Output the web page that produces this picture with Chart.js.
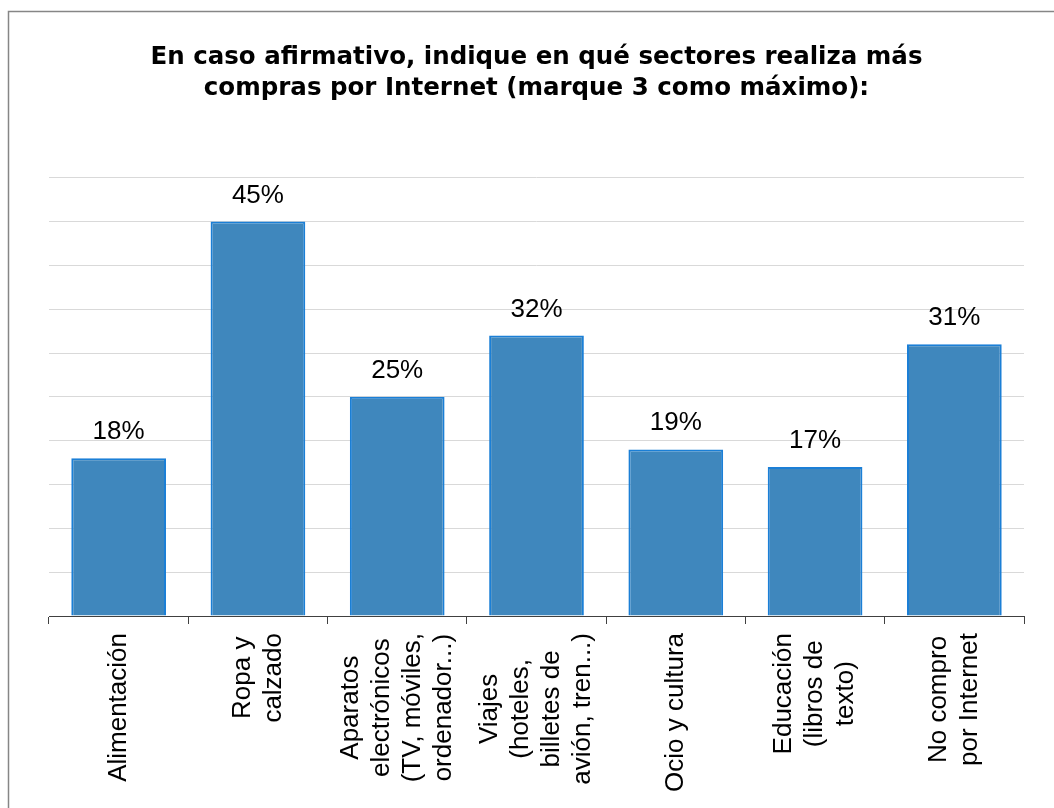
<!DOCTYPE html>
<html>
<head>
<meta charset="utf-8">
<script src="https://cdn.jsdelivr.net/npm/chart.js@4.4.0/dist/chart.umd.min.js"></script>
<style>
  html, body { margin: 0; padding: 0; background: #ffffff; }
  #wrap { width: 1054px; height: 808px; position: relative; }
</style>
</head>
<body>
<div id="wrap"><canvas id="c" width="1054" height="808"></canvas></div>
<script>
const titleLines = ["En caso afirmativo, indique en qué sectores realiza más", "compras por Internet (marque 3 como máximo):"];
const categories = [
  ["Alimentación"],
  ["Ropa y", "calzado"],
  ["Aparatos", "electrónicos", "(TV, móviles,", "ordenador...)"],
  ["Viajes", "(hoteles,", "billetes de", "avión, tren...)"],
  ["Ocio y cultura"],
  ["Educación", "(libros de", "texto)"],
  ["No compro", "por Internet"]
];
const values = [18, 45, 25, 32, 19, 17, 31];
const valueLabels = ["18%", "45%", "25%", "32%", "19%", "17%", "31%"];
const yMin = 0, yMax = 50, yStep = 5;

const LABEL_FONT = '26px "Liberation Sans", Arial, sans-serif';

const framePlugin = {
  id: 'frame',
  beforeDraw(chart) {
    const ctx = chart.ctx;
    ctx.save();
    ctx.fillStyle = '#ffffff';
    ctx.fillRect(0, 0, chart.width, chart.height);
    ctx.strokeStyle = '#868686';
    ctx.lineWidth = 1.5;
    ctx.beginPath();
    ctx.moveTo(8.5, chart.height + 2);
    ctx.lineTo(8.5, 11.5);
    ctx.lineTo(chart.width + 2, 11.5);
    ctx.stroke();
    ctx.restore();
  }
};

const valueLabelPlugin = {
  id: 'valueLabels',
  afterDatasetsDraw(chart) {
    const ctx = chart.ctx;
    const meta = chart.getDatasetMeta(0);
    ctx.save();
    ctx.font = LABEL_FONT;
    ctx.fillStyle = '#000000';
    ctx.textAlign = 'center';
    ctx.textBaseline = 'alphabetic';
    meta.data.forEach((bar, i) => {
      ctx.fillText(valueLabels[i], bar.x, bar.y - 19);
    });
    ctx.restore();
  }
};

const xLabelPlugin = {
  id: 'xLabels',
  afterDraw(chart) {
    const ctx = chart.ctx;
    const xs = chart.scales.x;
    const top = chart.chartArea.bottom + 17;
    const lh = 31;
    ctx.save();
    ctx.font = LABEL_FONT;
    ctx.fillStyle = '#000000';
    ctx.textAlign = 'center';
    ctx.textBaseline = 'middle';
    categories.forEach((lines, i) => {
      const cx = xs.getPixelForValue(i);
      let w = 0;
      lines.forEach(l => { w = Math.max(w, ctx.measureText(l).width); });
      ctx.save();
      ctx.translate(cx, top + w / 2);
      ctx.rotate(-Math.PI / 2);
      const n = lines.length;
      lines.forEach((l, j) => {
        ctx.fillText(l, 0, (j - (n - 1) / 2) * lh);
      });
      ctx.restore();
    });
    ctx.restore();
  }
};

new Chart(document.getElementById('c'), {
  type: 'bar',
  data: {
    labels: categories,
    datasets: [{
      data: values,
      backgroundColor: '#3f87bd',
      borderColor: '#1b7fd6',
      borderWidth: 2,
      borderSkipped: 'start',
      barPercentage: 0.68,
      categoryPercentage: 1.0
    }]
  },
  options: {
    responsive: false,
    animation: false,
    devicePixelRatio: 1,
    layout: { padding: { left: 49, right: 30, top: 32, bottom: 184 } },
    plugins: {
      legend: { display: false },
      tooltip: { enabled: false },
      title: {
        display: true,
        text: titleLines,
        color: '#000000',
        font: { family: '"DejaVu Sans", Verdana, sans-serif', size: 24.5, weight: 'bold', lineHeight: 1.28 },
        padding: { top: 10, bottom: 73 }
      }
    },
    scales: {
      x: {
        offset: true,
        grid: {
          display: true,
          drawOnChartArea: false,
          drawTicks: true,
          tickLength: 8,
          color: '#404040',
          lineWidth: 1
        },
        border: { display: true, color: '#404040', width: 1 },
        ticks: { display: false }
      },
      y: {
        min: yMin,
        max: yMax,
        ticks: { display: false, stepSize: yStep },
        grid: { color: '#d9d9d9', lineWidth: 1, drawTicks: false },
        border: { display: false }
      }
    }
  },
  plugins: [framePlugin, valueLabelPlugin, xLabelPlugin]
});
</script>
</body>
</html>
